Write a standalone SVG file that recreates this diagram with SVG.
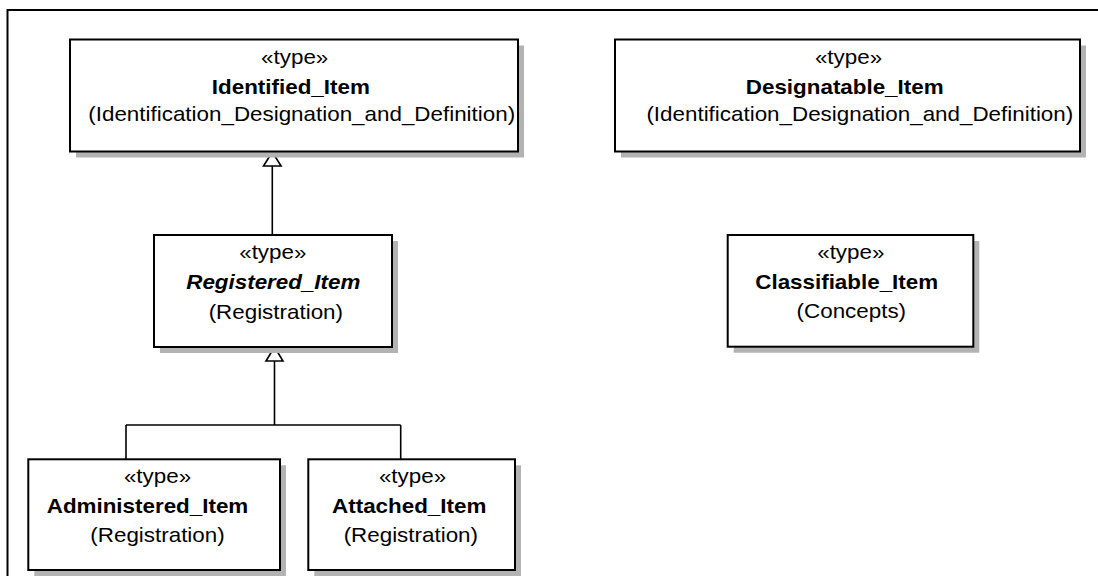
<svg xmlns="http://www.w3.org/2000/svg" width="1098" height="576" viewBox="0 0 1098 576">
<style>
.shadow{fill:#b3b3b3;stroke:none}
.box{fill:#ffffff;stroke:#000000;stroke-width:2}
.t{font-family:"Liberation Sans",Arial,sans-serif;font-size:20px;fill:#000000;text-anchor:middle}
.b{font-weight:bold}
.bi{font-weight:bold;font-style:italic}
.conn{fill:none;stroke:#000000;stroke-width:1.6}
.tri{fill:#ffffff;stroke:#000000;stroke-width:1.6}
.frame{fill:none;stroke:#000000;stroke-width:2}
</style>
<rect x="0" y="0" width="1098" height="576" fill="#ffffff"/>
<path class="frame" d="M7.5,576 V10 H1098"/>

<g id="connectors">
  <path class="conn" d="M272.3,235 V166"/>
  <polygon class="tri" points="272.3,152 263.5,166 281.1,166"/>
  <path class="conn" d="M274.5,361 V425 M126,425 H400.7 M126,425 V459 M400.7,425 V459"/>
  <polygon class="tri" points="274.5,347 266,361 283,361"/>
</g>

<g id="Identified_Item">
  <rect class="shadow" x="76" y="45.5" width="448" height="112"/>
  <rect class="box" x="70" y="39.5" width="448" height="112"/>
  <text class="t" transform="translate(294.7,63.5) scale(1.12,1)">«type»</text>
  <text class="t b" transform="translate(290.8,93.5) scale(1.12,1)">Identified_Item</text>
  <text class="t" transform="translate(301.7,121) scale(1.12,1)">(Identification_Designation_and_Definition)</text>
</g>

<g id="Designatable_Item">
  <rect class="shadow" x="621" y="45.5" width="465" height="112"/>
  <rect class="box" x="615" y="39.5" width="465" height="112"/>
  <text class="t" transform="translate(848.5,63.5) scale(1.12,1)">«type»</text>
  <text class="t b" transform="translate(844.7,93.5) scale(1.12,1)">Designatable_Item</text>
  <text class="t" transform="translate(859.8,121) scale(1.12,1)">(Identification_Designation_and_Definition)</text>
</g>

<g id="Registered_Item">
  <rect class="shadow" x="160" y="241" width="238" height="112"/>
  <rect class="box" x="154" y="235" width="238" height="112"/>
  <text class="t" transform="translate(272.8,259.3) scale(1.12,1)">«type»</text>
  <text class="t bi" transform="translate(273.3,289.3) scale(1.12,1)">Registered_Item</text>
  <text class="t" transform="translate(275.8,318.5) scale(1.12,1)">(Registration)</text>
</g>

<g id="Classifiable_Item">
  <rect class="shadow" x="733.7" y="241" width="245.6" height="111.7"/>
  <rect class="box" x="727.7" y="235" width="245.6" height="111.7"/>
  <text class="t" transform="translate(850.8,259.3) scale(1.12,1)">«type»</text>
  <text class="t b" transform="translate(846.7,289.3) scale(1.12,1)">Classifiable_Item</text>
  <text class="t" transform="translate(851.3,318) scale(1.12,1)">(Concepts)</text>
</g>

<g id="Administered_Item">
  <rect class="shadow" x="34.3" y="465.3" width="251.7" height="110.7"/>
  <rect class="box" x="28.3" y="459.3" width="251.7" height="110.7"/>
  <text class="t" transform="translate(157.5,483.3) scale(1.12,1)">«type»</text>
  <text class="t b" transform="translate(147.5,513.3) scale(1.12,1)">Administered_Item</text>
  <text class="t" transform="translate(157.5,541.7) scale(1.12,1)">(Registration)</text>
</g>

<g id="Attached_Item">
  <rect class="shadow" x="314.3" y="465.3" width="206.7" height="110.7"/>
  <rect class="box" x="308.3" y="459.3" width="206.7" height="110.7"/>
  <text class="t" transform="translate(412.5,483.3) scale(1.12,1)">«type»</text>
  <text class="t b" transform="translate(409.2,513.3) scale(1.12,1)">Attached_Item</text>
  <text class="t" transform="translate(410.8,541.7) scale(1.12,1)">(Registration)</text>
</g>
</svg>
